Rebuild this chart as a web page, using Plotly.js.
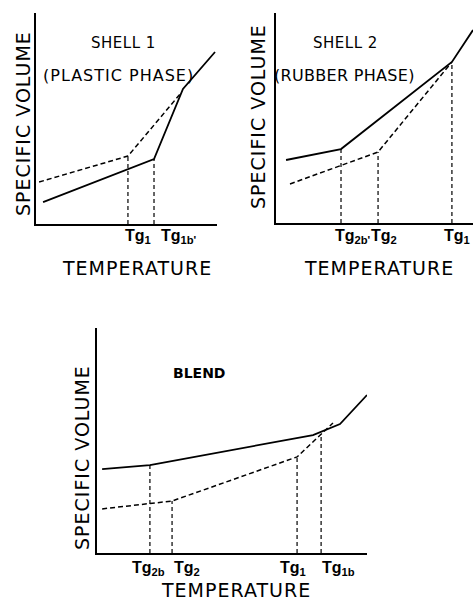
<!DOCTYPE html>
<html><head><meta charset="utf-8">
<script src="https://cdn.plot.ly/plotly-3.0.1.min.js"></script>
<style>html,body{margin:0;padding:0;background:#fff}#chart{width:473px;height:605px}</style>
</head><body><div id="chart"></div>
<script>
// ---- data (arbitrary units: temperature 0-100, specific volume 0-100) ----
// Panel 1: Shell 1 (plastic phase)
const p1SolidT = [3.9, 65.2, 81.2, 98.9];
const p1SolidV = [10.4, 30.8, 64.0, 81.5];
const p1DashT = [1.7, 50.8, 79.6];
const p1DashV = [19.9, 32.2, 61.6];
const p1Tg = [50.8, 65.2];
const p1TgV = [32.2, 30.8];
const p1TgLabels = ['Tg<sub>1</sub>', "Tg<sub>1b'</sub>"];
// Panel 2: Shell 2 (rubber phase)
const p2SolidT = [5.1, 33.0, 89.3, 100];
const p2SolidV = [30.0, 35.2, 76.7, 91.9];
const p2DashT = [7.1, 51.8, 89.3];
const p2DashV = [18.6, 33.8, 76.7];
const p2Tg = [33.0, 51.8, 89.3];
const p2TgV = [35.2, 33.8, 76.7];
const p2TgLabels = ["Tg<sub>2b'</sub>", 'Tg<sub>2</sub>', 'Tg<sub>1</sub>'];
// Panel 3: Blend
const p3SolidT = [1.9, 19.6, 80.0, 90.0, 100];
const p3SolidV = [37.3, 39.1, 52.4, 57.3, 70.2];
const p3DashT = [1.9, 27.8, 74.1, 87.4];
const p3DashV = [19.6, 23.1, 42.7, 57.8];
const p3Tg = [19.6, 27.8, 74.1, 83.0];
const p3TgV = [39.1, 23.1, 42.7, 51.6];
const p3TgLabels = ['Tg<sub>2b</sub>', 'Tg<sub>2</sub>', 'Tg<sub>1</sub>', 'Tg<sub>1b</sub>'];

// ---- styles ----
const W = 473, H = 605;
const px = x => x / W, py = y => 1 - y / H;
const FONT = 'DejaVu Sans, sans-serif';
const TGFONT = 'Liberation Sans, Arial, sans-serif';
const solidLine = {color: '#000', width: 1.8};
const dashLine = {color: '#000', width: 1.5, dash: '5px,3px'};
const vLine = {color: '#000', width: 1.2, dash: '4px,3px'};
const p1Shift = [-5, 5];
const p2Shift = [-8, -9, -10];
const p3Shift = [-20, 0, -19, -1];

const traces = [];
function panel(ax, sT, sV, dT, dV, tg, tgV) {
  const xa = 'x' + (ax === 1 ? '' : ax), ya = 'y' + (ax === 1 ? '' : ax);
  traces.push({x: sT, y: sV, xaxis: xa, yaxis: ya, mode: 'lines', line: solidLine, hoverinfo: 'skip'});
  traces.push({x: dT, y: dV, xaxis: xa, yaxis: ya, mode: 'lines', line: dashLine, hoverinfo: 'skip'});
  tg.forEach((t, i) => traces.push({x: [t, t], y: [0, tgV[i]], xaxis: xa, yaxis: ya,
    mode: 'lines', line: vLine, hoverinfo: 'skip'}));
}
panel(1, p1SolidT, p1SolidV, p1DashT, p1DashV, p1Tg, p1TgV);
panel(2, p2SolidT, p2SolidV, p2DashT, p2DashV, p2Tg, p2TgV);
panel(3, p3SolidT, p3SolidV, p3DashT, p3DashV, p3Tg, p3TgV);

const axBase = {range: [0, 100], showgrid: false, zeroline: false, showticklabels: false,
  ticks: '', showline: true, linecolor: '#000', linewidth: 2, fixedrange: true};
const layout = {
  width: W, height: H, margin: {l: 0, r: 0, t: 0, b: 0},
  paper_bgcolor: '#fff', plot_bgcolor: '#fff', showlegend: false,
  xaxis:  Object.assign({}, axBase, {domain: [px(36), px(217)], anchor: 'y'}),
  yaxis:  Object.assign({}, axBase, {domain: [py(224), py(13)], anchor: 'x'}),
  xaxis2: Object.assign({}, axBase, {domain: [px(276), 1], anchor: 'y2'}),
  yaxis2: Object.assign({}, axBase, {domain: [py(223), py(13)], anchor: 'x2'}),
  xaxis3: Object.assign({}, axBase, {domain: [px(97), px(367)], anchor: 'y3'}),
  yaxis3: Object.assign({}, axBase, {domain: [py(553), py(328)], anchor: 'x3'}),
  annotations: []
};
const ann = layout.annotations;
function sp(s, ls) { return '<span style="letter-spacing:' + ls + 'px">' + s + '</span>'; }
function txt(x, y, text, size, extra) {
  ann.push(Object.assign({xref: 'paper', yref: 'paper', x: px(x), y: py(y), text: text,
    showarrow: false, xanchor: 'center', yanchor: 'middle',
    font: {family: FONT, size: size, color: '#000'}}, extra || {}));
}
// axis titles
txt(137, 268, sp('TEMPERATURE', 1), 19);
txt(379, 268, sp('TEMPERATURE', 1), 19);
txt(236, 590, sp('TEMPERATURE', 1), 19);
txt(23, 124, sp('SPECIFIC VOLUME', 1), 19, {textangle: -90});
txt(258, 117, sp('SPECIFIC VOLUME', 1), 19, {textangle: -90});
txt(82, 458, sp('SPECIFIC VOLUME', 1), 19, {textangle: -90});
// panel captions
txt(123, 43, sp('SHELL 1', 0.5), 15);
txt(118, 75, sp('(PLASTIC PHASE)', 1), 16);
txt(345, 43, sp('SHELL 2', 0.5), 15);
txt(344, 75, sp('(RUBBER PHASE)', 0.3), 16);
txt(199, 373, '<b>BLEND</b>', 14);
// Tg labels
function tgLabels(ax, tg, labels, shifts, yPix) {
  tg.forEach((t, i) => ann.push({xref: 'x' + ax, yref: 'paper', x: t, y: py(yPix), text: '<b>' + labels[i] + '</b>',
    showarrow: false, xanchor: 'left', yanchor: 'middle', xshift: shifts[i],
    font: {family: TGFONT, size: 16, color: '#000'}}));
}
tgLabels(1, p1Tg, p1TgLabels, p1Shift, 236);
tgLabels(2, p2Tg, p2TgLabels, p2Shift, 236);
tgLabels(3, p3Tg, p3TgLabels, p3Shift, 568);

Plotly.newPlot('chart', traces, layout, {staticPlot: true, displayModeBar: false});
</script></body></html>
